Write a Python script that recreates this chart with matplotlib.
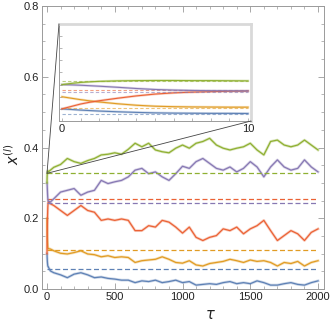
import matplotlib
matplotlib.use("Agg")
import matplotlib.pyplot as plt
from matplotlib.patches import ConnectionPatch
from matplotlib.ticker import MultipleLocator

plt.rcParams['font.family'] = ['Liberation Sans', 'DejaVu Sans']
plt.rcParams['mathtext.fontset'] = 'dejavusans'

# ---- data ----
tau_inset = [0, 0.5, 1, 1.5, 2, 3, 4, 5, 6, 7, 8, 9, 10]
green_inset = [0.30, 0.31, 0.318, 0.323, 0.327, 0.331, 0.333, 0.334, 0.334, 0.333, 0.333, 0.332, 0.331]
purple_inset = [0.30, 0.298, 0.295, 0.291, 0.287, 0.278, 0.268, 0.260, 0.255, 0.252, 0.250, 0.249, 0.248]
red_inset = [0.10, 0.12, 0.14, 0.155, 0.167, 0.188, 0.207, 0.222, 0.232, 0.238, 0.242, 0.245, 0.247]
orange_inset = [0.20, 0.188, 0.176, 0.166, 0.157, 0.142, 0.130, 0.122, 0.118, 0.116, 0.115, 0.114, 0.114]
blue_inset = [0.10, 0.095, 0.090, 0.086, 0.082, 0.076, 0.071, 0.067, 0.065, 0.064, 0.063, 0.063, 0.062]

tau_main = [25] + list(range(50, 2001, 50))
green_main = [0.336, 0.344, 0.352, 0.369, 0.360, 0.355, 0.363, 0.369, 0.379, 0.381, 0.385,
              0.381, 0.395, 0.412, 0.402, 0.412, 0.393, 0.388, 0.385, 0.398, 0.407,
              0.398, 0.412, 0.417, 0.426, 0.407, 0.398, 0.393, 0.398, 0.402, 0.412,
              0.393, 0.379, 0.417, 0.421, 0.407, 0.402, 0.407, 0.421, 0.407, 0.393]
purple_main = [0.246, 0.255, 0.274, 0.279, 0.284, 0.265, 0.274, 0.279, 0.307, 0.298, 0.303,
               0.307, 0.317, 0.336, 0.341, 0.326, 0.331, 0.317, 0.307, 0.326, 0.347,
               0.341, 0.360, 0.369, 0.355, 0.341, 0.336, 0.345, 0.331, 0.341, 0.360,
               0.345, 0.317, 0.345, 0.365, 0.345, 0.336, 0.341, 0.365, 0.345, 0.331]
red_main = [0.241, 0.236, 0.222, 0.208, 0.222, 0.236, 0.222, 0.217, 0.194, 0.198, 0.194,
            0.198, 0.194, 0.165, 0.165, 0.179, 0.175, 0.194, 0.189, 0.175, 0.158,
            0.175, 0.146, 0.137, 0.146, 0.151, 0.170, 0.165, 0.175, 0.156, 0.170,
            0.179, 0.194, 0.165, 0.137, 0.151, 0.165, 0.156, 0.137, 0.160, 0.170]
orange_main = [0.113, 0.108, 0.101, 0.099, 0.103, 0.108, 0.099, 0.097, 0.091, 0.094, 0.089,
               0.091, 0.089, 0.075, 0.080, 0.082, 0.084, 0.091, 0.084, 0.075, 0.073,
               0.080, 0.068, 0.065, 0.072, 0.075, 0.078, 0.084, 0.080, 0.075, 0.082,
               0.078, 0.080, 0.075, 0.065, 0.075, 0.072, 0.078, 0.065, 0.075, 0.080]
blue_main = [0.051, 0.046, 0.040, 0.032, 0.042, 0.046, 0.040, 0.032, 0.034, 0.030, 0.028,
             0.025, 0.025, 0.018, 0.023, 0.021, 0.025, 0.018, 0.021, 0.025, 0.018,
             0.021, 0.011, 0.013, 0.015, 0.013, 0.018, 0.021, 0.015, 0.018, 0.015,
             0.023, 0.018, 0.011, 0.011, 0.015, 0.018, 0.013, 0.011, 0.018, 0.023]

# stationary (dashed) levels
green_eq = 0.327
red_eq = 0.255
purple_eq = 0.243
orange_eq = 0.111
blue_eq = 0.057

x_ticks = [0, 500, 1000, 1500, 2000]
y_ticks = [0.0, 0.2, 0.4, 0.6, 0.8]

C_BLUE = '#5E81B5'
C_ORANGE = '#E19C24'
C_GREEN = '#8FB032'
C_RED = '#EB6235'
C_PURPLE = '#8778B3'

series = [
    (blue_inset, blue_main, blue_eq, C_BLUE),
    (orange_inset, orange_main, orange_eq, C_ORANGE),
    (red_inset, red_main, red_eq, C_RED),
    (purple_inset, purple_main, purple_eq, C_PURPLE),
    (green_inset, green_main, green_eq, C_GREEN),
]

W, H = 332, 327
fig = plt.figure(figsize=(W / 100, H / 100), dpi=100)

frame_col = '#9a9a9a'
ax = fig.add_axes([42 / W, 1 - 289 / H, (324 - 42) / W, (289 - 6) / H])
ax.set_xlim(-37, 2044)
ax.set_ylim(0, 0.8)

for ins, mn, eq, c in series:
    t = tau_inset + tau_main
    v = ins + mn
    ax.plot(t, v, color=c, lw=2.0, alpha=0.3)
    ax.plot(t, v, color=c, lw=0.9)
    ax.plot([0, 2000], [eq, eq], color=c, lw=0.9, dashes=(4, 2.2))

ax.set_xticks(x_ticks)
ax.set_yticks(y_ticks)
ax.set_yticklabels([f'{y:.1f}' for y in y_ticks])
ax.xaxis.set_minor_locator(MultipleLocator(100))
ax.yaxis.set_minor_locator(MultipleLocator(0.05))
ax.tick_params(which='both', direction='in', top=True, right=True,
               color=frame_col, labelsize=8, labelcolor='#222222', pad=2)
ax.tick_params(which='major', length=4, width=0.6)
ax.tick_params(which='minor', length=2.5, width=0.5)
for s in ax.spines.values():
    s.set_color(frame_col)
    s.set_linewidth(0.7)

fig.text(13 / W, 1 - 154 / H, r'$x^{(l)}$', rotation=90, ha='center', va='center',
         fontsize=10.5, color='#222222')
fig.text(210 / W, 1 - 315 / H, r'$\tau$', ha='center', va='center',
         fontsize=10.5, color='#222222')

# ---- inset ----
axins = fig.add_axes([59 / W, 1 - 121 / H, (251 - 59) / W, (121 - 24) / H])
axins.set_xlim(-0.16, 10.16)
axins.set_ylim(0, 0.8)
for ins, mn, eq, c in series:
    axins.plot(tau_inset, ins, color=c, lw=1.8, alpha=0.3)
    axins.plot(tau_inset, ins, color=c, lw=0.8)
    axins.plot([0, 10], [eq, eq], color=c, lw=0.8, dashes=(3, 2), alpha=0.6)
axins.set_xticks([0, 10])
axins.xaxis.set_minor_locator(MultipleLocator(1))
axins.yaxis.set_major_locator(MultipleLocator(0.1))
axins.set_yticklabels([])
axins.tick_params(which='both', direction='in', color=frame_col, labelsize=8,
                  labelcolor='#222222', pad=2, length=2.5, width=0.5)
axins.spines['top'].set_color('#d9d9d9')
axins.spines['top'].set_linewidth(2.0)
axins.spines['right'].set_color('#d9d9d9')
axins.spines['right'].set_linewidth(2.0)
axins.spines['left'].set_color(frame_col)
axins.spines['left'].set_linewidth(0.7)
axins.spines['bottom'].set_color(frame_col)
axins.spines['bottom'].set_linewidth(0.7)

for corner in [(0, 1), (1, 0)]:
    con = ConnectionPatch(xyA=(0, green_eq), coordsA=ax.transData,
                          xyB=corner, coordsB=axins.transAxes,
                          color='#444444', lw=0.6)
    fig.add_artist(con)

fig.savefig('out.png', dpi=100)
